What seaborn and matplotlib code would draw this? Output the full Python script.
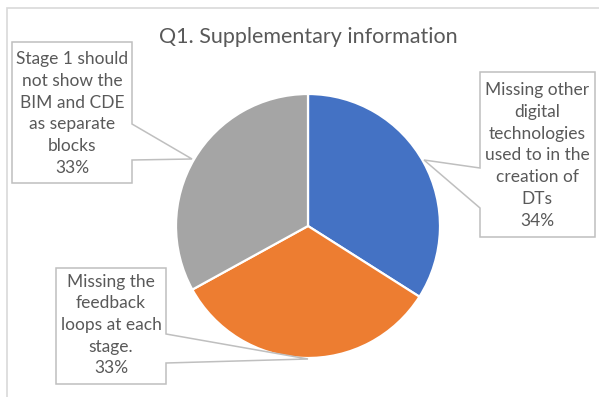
import matplotlib
matplotlib.use("Agg")
import matplotlib.pyplot as plt
from matplotlib.patches import Polygon, Rectangle
import seaborn as sns

# Survey responses for question 1
categories = [
    "Missing other\ndigital\ntechnologies\nused to in the\ncreation of\nDTs",
    "Missing the\nfeedback\nloops at each\nstage.",
    "Stage 1 should\nnot show the\nBIM and CDE\nas separate\nblocks",
]
shares = [34, 33, 33]
slice_colors = ["#4472C4", "#ED7D31", "#A5A5A5"]
title = "Q1. Supplementary information"

sns.set_theme(style="white")
plt.rcParams["font.family"] = ["Lato", "DejaVu Sans"]

W, H = 599, 397
fig = plt.figure(figsize=(W / 100, H / 100), dpi=100)
fig.patch.set_facecolor("white")


def fx(x):
    return x / W


def fy(y):
    return 1 - y / H


# chart area frame
fig.add_artist(Rectangle((fx(7), fy(410)), fx(610) - fx(7), fy(8) - fy(410),
                         transform=fig.transFigure, fill=False,
                         edgecolor="#D9D9D9", linewidth=1.2, zorder=0))

# pie axes: centre (308, 226), radius 132 px
cx, cy, r = 308, 226, 132
ax = fig.add_axes([fx(cx - r), fy(cy + r), 2 * r / W, 2 * r / H])
ax.pie(shares, colors=sns.color_palette(slice_colors), startangle=90,
       counterclock=False,
       wedgeprops=dict(edgecolor="white", linewidth=1.6))
ax.set_xlim(-1, 1)
ax.set_ylim(-1, 1)
ax.set_axis_off()

fig.text(fx(308), fy(37), title, ha="center", va="center",
         fontsize=15.5, color="#595959")

# wedge callouts (pixel outlines), label centres
callouts = [
    # blue slice, right
    dict(shape=[(480, 72), (595, 72), (595, 237), (480, 237), (480, 208),
                (424, 160), (480, 168)],
         centre=(537, 155.5)),
    # orange slice, bottom
    dict(shape=[(56, 268), (166, 268), (166, 334), (308, 359), (166, 363),
                (166, 384), (56, 384)],
         centre=(111, 325)),
    # gray slice, left
    dict(shape=[(12, 42), (132, 42), (132, 124), (192, 159), (132, 160),
                (132, 183), (12, 183)],
         centre=(72, 113.5)),
]

for cat, share, co in zip(categories, shares, callouts):
    pts = [(fx(x), fy(y)) for x, y in co["shape"]]
    fig.add_artist(Polygon(pts, closed=True, transform=fig.transFigure,
                           facecolor="white", edgecolor="#BFBFBF",
                           linewidth=1.1, zorder=2))
    fig.text(fx(co["centre"][0]), fy(co["centre"][1]),
             f"{cat}\n{share}%", ha="center", va="center",
             fontsize=12.5, color="#595959", linespacing=1.44, zorder=3)

fig.savefig("out.png", dpi=100)
